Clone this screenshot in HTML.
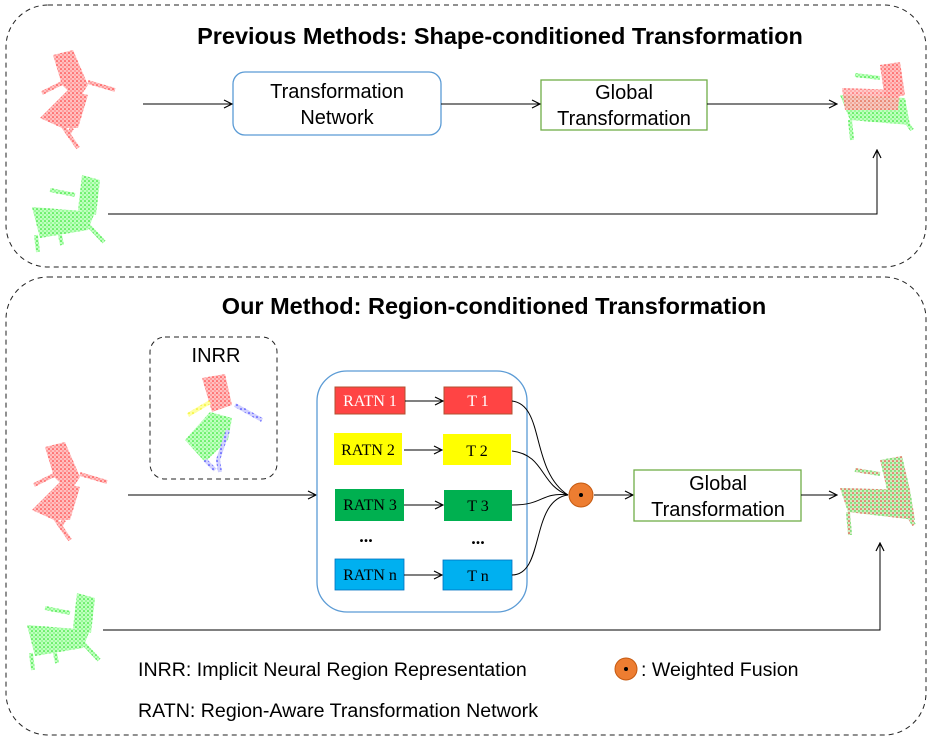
<!DOCTYPE html>
<html><head><meta charset="utf-8"><style>
html,body{margin:0;padding:0;background:#fff;}
svg{display:block;font-family:"Liberation Sans",sans-serif;}
.t{font-family:"Liberation Sans","DejaVu Sans",sans-serif;}
.s{font-family:"Liberation Serif",serif;}
</style></head><body>
<svg width="933" height="742" viewBox="0 0 933 742" xmlns="http://www.w3.org/2000/svg">
<defs>
<marker id="a" markerWidth="10" markerHeight="10" refX="9" refY="5" orient="auto" markerUnits="userSpaceOnUse"><path d="M1,1 L9,5 L1,9" fill="none" stroke="#000" stroke-width="1.2"/></marker>
<pattern id="pr" width="4" height="4" patternUnits="userSpaceOnUse"><rect width="4" height="4" fill="#ffc0c0"/><circle cx="1" cy="1" r="0.8" fill="#f22"/><circle cx="3" cy="3" r="0.6" fill="#f44"/></pattern>
<pattern id="pg" width="4" height="4" patternUnits="userSpaceOnUse"><rect width="4" height="4" fill="#c0ffc0"/><circle cx="1" cy="1" r="0.8" fill="#1d1"/><circle cx="3" cy="3" r="0.6" fill="#3e3"/></pattern>
<pattern id="pb" width="4" height="4" patternUnits="userSpaceOnUse"><rect width="4" height="4" fill="#d0d0ff"/><circle cx="1" cy="1" r="0.8" fill="#22f"/></pattern>
<pattern id="py" width="4" height="4" patternUnits="userSpaceOnUse"><rect width="4" height="4" fill="#ffffa0"/><circle cx="1" cy="1" r="0.8" fill="#ee0"/></pattern>
<pattern id="pm" width="4" height="4" patternUnits="userSpaceOnUse"><rect width="4" height="4" fill="#d0ecc0"/><circle cx="1" cy="1" r="0.8" fill="#e22"/><circle cx="3" cy="3" r="0.7" fill="#2c2"/></pattern>
<g id="redchair">
<polygon points="53,55 73,50 88,85 78,100 62,85" fill="url(#pr)"/>
<polygon points="40,118 68,90 88,95 78,128 62,128" fill="url(#pr)"/>
<path d="M42,93 L68,80 M88,82 L115,90 M62,125 L78,148 M72,128 L68,135" stroke="url(#pr)" stroke-width="4" fill="none"/>
</g>
<g id="greenchair">
<polygon points="82,175 100,180 96,215 78,210" fill="url(#pg)"/>
<polygon points="32,207 95,212 88,230 40,238" fill="url(#pg)"/>
<path d="M50,190 L75,195 M36,235 L38,252 M88,225 L104,242 M60,235 L62,245" stroke="url(#pg)" stroke-width="4" fill="none"/>
</g>
</defs>

<rect x="6" y="5" width="920" height="262" rx="42" fill="none" stroke="#222" stroke-width="1" stroke-dasharray="5,4"/>
<text x="500" y="44" text-anchor="middle" font-size="23.5" font-weight="bold" class="t">Previous Methods: Shape-conditioned Transformation</text>
<use href="#redchair"/>
<use href="#greenchair"/>
<rect x="233" y="72" width="208" height="63" rx="12" fill="#fff" stroke="#5b9bd5" stroke-width="1.3"/>
<text x="337" y="98" text-anchor="middle" font-size="20" class="t">Transformation</text>
<text x="337" y="124" text-anchor="middle" font-size="20" class="t">Network</text>
<rect x="541" y="80" width="166" height="50" fill="#fff" stroke="#70ad47" stroke-width="1.3"/>
<text x="624" y="99" text-anchor="middle" font-size="20" class="t">Global</text>
<text x="624" y="125" text-anchor="middle" font-size="20" class="t">Transformation</text>
<line x1="143" y1="104" x2="232" y2="104" stroke="#000" marker-end="url(#a)"/>
<line x1="441" y1="104" x2="540" y2="104" stroke="#000" marker-end="url(#a)"/>
<line x1="707" y1="104" x2="837" y2="104" stroke="#000" marker-end="url(#a)"/>
<polyline points="108,214 877,214 877,150" fill="none" stroke="#000" marker-end="url(#a)"/>
<polygon points="880,65 900,62 905,95 885,100" fill="url(#pr)"/>
<polygon points="840,95 905,98 910,125 850,120" fill="url(#pg)"/>
<polygon points="842,88 900,90 898,110 845,110" fill="url(#pr)" opacity="0.85"/>
<path d="M855,75 L880,78 M850,120 L852,140 M905,120 L912,130" stroke="url(#pg)" stroke-width="4" fill="none"/>

<rect x="6" y="277" width="920" height="458" rx="42" fill="none" stroke="#222" stroke-width="1" stroke-dasharray="5,4"/>
<text x="494" y="314" text-anchor="middle" font-size="23.5" font-weight="bold" class="t">Our Method: Region-conditioned Transformation</text>
<use href="#redchair" transform="translate(-8,392)"/>
<use href="#greenchair" transform="translate(-5,418)"/>

<rect x="150" y="337" width="127" height="142" rx="15" fill="none" stroke="#222" stroke-dasharray="5,4"/>
<text x="216" y="362" text-anchor="middle" font-size="20" class="t">INRR</text>
<polygon points="202,378 225,374 232,405 212,412" fill="url(#pr)"/>
<polygon points="185,440 210,412 232,418 228,440 205,462" fill="url(#pg)"/>
<path d="M188,415 L210,402" stroke="url(#py)" stroke-width="4" fill="none"/>
<path d="M235,405 L262,420 M228,430 L218,460 L220,472 M205,460 L215,470" stroke="url(#pb)" stroke-width="4" fill="none"/>

<line x1="128" y1="495" x2="316" y2="495" stroke="#000" marker-end="url(#a)"/>

<rect x="317" y="371" width="210" height="241" rx="30" fill="none" stroke="#5b9bd5" stroke-width="1.3"/>
<rect x="335" y="387" width="70" height="27" fill="#ff4444" stroke="#b05030"/>
<text x="370" y="406" text-anchor="middle" font-size="16" fill="#fff" class="s">RATN 1</text>
<rect x="444" y="387" width="68" height="27" fill="#ff4444" stroke="#b05030"/>
<text x="478" y="406" text-anchor="middle" font-size="16" fill="#fff" class="s">T 1</text>
<rect x="334" y="433" width="68" height="32" fill="#ffff00"/>
<text x="368" y="455" text-anchor="middle" font-size="16" class="s">RATN 2</text>
<rect x="443" y="434" width="68" height="31" fill="#ffff00"/>
<text x="477" y="456" text-anchor="middle" font-size="16" class="s">T 2</text>
<rect x="335" y="489" width="69" height="32" fill="#00b050"/>
<text x="370" y="510" text-anchor="middle" font-size="16" class="s">RATN 3</text>
<rect x="444" y="490" width="68" height="31" fill="#00b050"/>
<text x="478" y="511" text-anchor="middle" font-size="16" class="s">T 3</text>
<text x="366" y="542" text-anchor="middle" font-size="18" font-weight="bold" class="s">...</text>
<text x="478" y="544" text-anchor="middle" font-size="18" font-weight="bold" class="s">...</text>
<rect x="335" y="559" width="69" height="31" fill="#00b0f0" stroke="#0070c0" stroke-width="0.8"/>
<text x="370" y="580" text-anchor="middle" font-size="16" class="s">RATN n</text>
<rect x="443" y="560" width="69" height="30" fill="#00b0f0" stroke="#0070c0" stroke-width="0.8"/>
<text x="478" y="581" text-anchor="middle" font-size="16" class="s">T n</text>
<line x1="405" y1="401" x2="443" y2="401" stroke="#000" marker-end="url(#a)"/>
<line x1="404" y1="450" x2="442" y2="450" stroke="#000" marker-end="url(#a)"/>
<line x1="404" y1="505" x2="443" y2="505" stroke="#000" marker-end="url(#a)"/>
<line x1="404" y1="575" x2="442" y2="575" stroke="#000" marker-end="url(#a)"/>
<g fill="none" stroke="#000" stroke-width="1">
<path d="M512,401 C545,405 530,470 568,495"/>
<path d="M512,451 C545,455 540,485 568,495"/>
<path d="M512,505 C545,505 540,492 568,495"/>
<path d="M512,575 C545,575 530,500 568,495"/>
</g>
<circle cx="581" cy="495" r="12" fill="#ed7d31" stroke="#c55a11"/>
<circle cx="581" cy="495" r="2" fill="#000"/>
<line x1="594" y1="495" x2="633" y2="495" stroke="#000" marker-end="url(#a)"/>
<rect x="634" y="470" width="167" height="51" fill="#fff" stroke="#70ad47" stroke-width="1.3"/>
<text x="718" y="490" text-anchor="middle" font-size="20" class="t">Global</text>
<text x="718" y="516" text-anchor="middle" font-size="20" class="t">Transformation</text>
<line x1="801" y1="495" x2="837" y2="495" stroke="#000" marker-end="url(#a)"/>
<polyline points="103,630 880,630 880,543" fill="none" stroke="#000" marker-end="url(#a)"/>
<polygon points="880,460 902,456 910,490 888,494" fill="url(#pm)"/>
<polygon points="840,488 910,490 915,520 848,512" fill="url(#pm)"/>
<path d="M855,470 L880,474 M848,512 L850,535 M908,515 L914,525" stroke="url(#pm)" stroke-width="4" fill="none"/>

<text x="138" y="676" font-size="19.6" class="t">INRR: Implicit Neural Region Representation</text>
<text x="138" y="717" font-size="19.6" class="t">RATN: Region-Aware Transformation Network</text>
<circle cx="626" cy="669" r="11" fill="#ed7d31" stroke="#c55a11"/>
<circle cx="626" cy="669" r="2" fill="#000"/>
<text x="641" y="676" font-size="19.6" class="t">: Weighted Fusion</text>
</svg>
</body></html>
